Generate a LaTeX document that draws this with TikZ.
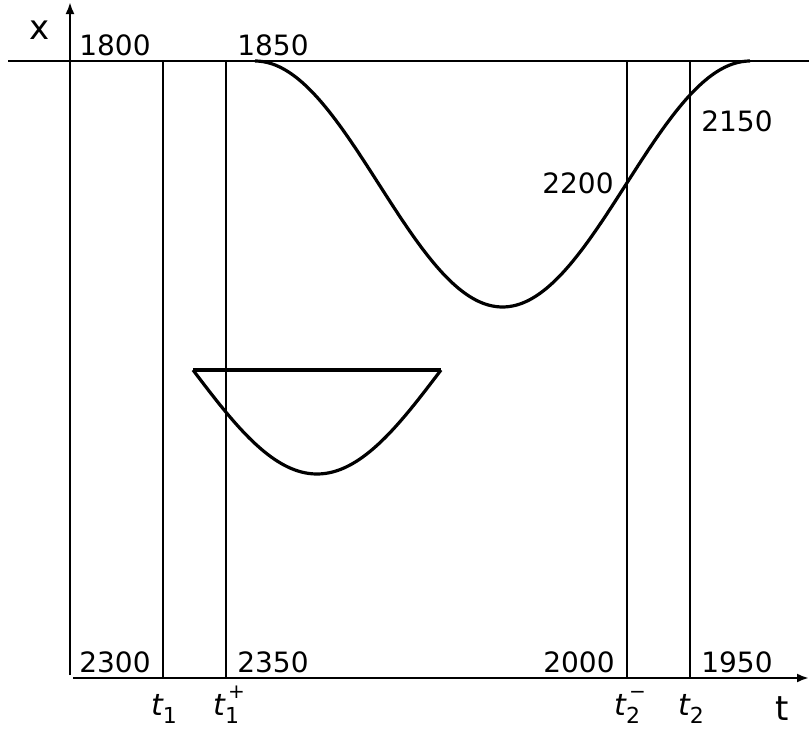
\documentclass[tikz,border=0pt]{standalone}
\usepackage{fontspec}
\setmainfont{DejaVu Sans}
\newfontfamily\obl{DejaVu Sans Oblique}
\usetikzlibrary{arrows.meta}
\newcommand{\sbs}[1]{\raisebox{-0.28em}{\fontsize{22}{24}\selectfont #1}}
\newcommand{\sbsp}[2]{\makebox[0pt][l]{\raisebox{-0.28em}{\fontsize{22}{24}\selectfont #1}}\raisebox{0.55em}{\fontsize{20}{22}\selectfont\kern0.15em #2}}
\begin{document}
\begin{tikzpicture}[x=1pt,y=-1pt,
  lbl/.style={font=\fontsize{28}{32}\selectfont, inner sep=0pt},
  big/.style={font=\fontsize{34}{36}\selectfont, inner sep=0pt},
  tlbl/.style={font=\fontsize{30}{34}\selectfont, inner sep=0pt, anchor=base},
  axis/.style={line width=2.3pt,-{Latex[length=12pt,width=9pt]}},
  vline/.style={line width=1.5pt},
  curve/.style={line width=3.2pt,line join=round}]
\useasboundingbox (0,0) rectangle (809,729);
% coordinates
\coordinate (o1) at (70,675);
\coordinate (ytop) at (70,2);
\coordinate (o2) at (73,678);
\coordinate (xend) at (809,678);
\coordinate (hl) at (8,61);
\coordinate (hr) at (809,61);
\foreach \n/\x in {a/163,b/226,c/627,d/690}{
  \coordinate (\n top) at (\x,61);
  \coordinate (\n bot) at (\x,678);
}
% axes
\draw[axis] (o1) -- (ytop);
\draw[axis] (o2) -- (xend);
\draw[line width=2.3pt] (hl) -- (hr);
% vertical lines
\foreach \n in {a,b,c,d}{ \draw[vline] (\n top) -- (\n bot); }
% main curve
\draw[curve] plot[domain=255:750,samples=120,smooth] (\x,{61+123*(1-cos(0.727273*(\x-255)))});
% lower shape
\coordinate (pl) at (193,370);
\coordinate (pr) at (441,370);
\draw[curve] (pl) -- (pr);
\draw[curve] plot[domain=193:441,samples=80,smooth] (\x,{370+104*sin(0.725806*(\x-193))});
% labels
\node[big] (lx) at (40,30) {x};
\node[big] (lt) at (782,709) {t};
\node[lbl] (n1800) at (115,45) {1800};
\node[lbl] (n1850) at (273,45) {1850};
\node[lbl] (n2300) at (115,662) {2300};
\node[lbl] (n2350) at (273,662) {2350};
\node[lbl] (n2000) at (579,662) {2000};
\node[lbl] (n1950) at (737,662) {1950};
\node[lbl] (n2200) at (578,183) {2200};
\node[lbl] (n2150) at (737,121) {2150};
\node[tlbl] (t1) at (164,715) {{\obl t}\sbs{1}};
\node[tlbl] (t1p) at (229,715) {{\obl t}\sbsp{1}{+}};
\node[tlbl] (t2m) at (630,715) {{\obl t}\sbsp{2}{−}};
\node[tlbl] (t2) at (691,715) {{\obl t}\sbs{2}};
\end{tikzpicture}
\end{document}
